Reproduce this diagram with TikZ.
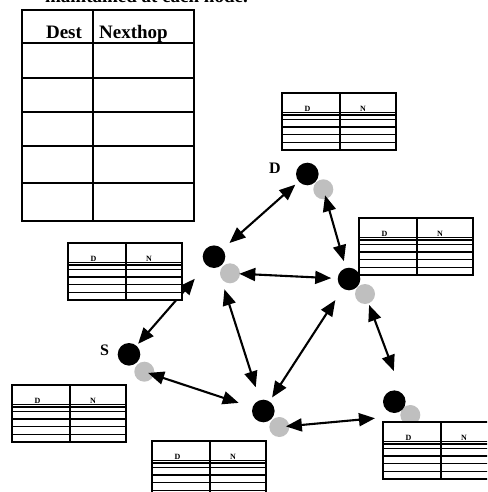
\documentclass[tikz,border=0pt]{standalone}
\usepackage{fontspec}
\setmainfont{Liberation Serif}
\usetikzlibrary{arrows.meta}
\begin{document}
\begin{tikzpicture}[x=1pt,y=-1pt,
  blk/.style={circle,fill=black,minimum size=22.6pt,inner sep=0pt,outer sep=0pt},
  gry/.style={circle,fill=black!25,minimum size=20pt,inner sep=0pt,outer sep=0pt},
  link/.style={line width=2.1pt,{Triangle[length=16pt,width=13pt]}-{Triangle[length=16pt,width=13pt]}},
  hdr/.style={font=\fontsize{19}{19}\selectfont\bfseries,anchor=base,inner sep=0pt},
  lab/.style={font=\fontsize{16}{16}\selectfont\bfseries,inner sep=0pt},
  tinytxt/.style={font=\fontsize{8}{8}\selectfont\bfseries,anchor=base,inner sep=0pt},
  tabline/.style={line width=1.3pt},
  smalltab/.pic={
    \fill[white] (0,0) rectangle (114,57);
    \draw[tabline] (0,0) rectangle (114,57);
    \draw[tabline] (58,0) -- (58,57);
    \foreach \yy in {19.7,21.9,26.3,34,41.7,49.7} \draw[tabline] (0,\yy) -- (114,\yy);
    \node[tinytxt] (-d) at (25.5,18) {D};
    \node[tinytxt] (-n) at (81,18) {N};
  }]
\useasboundingbox (0,0) rectangle (487,492);
\clip (0,0) rectangle (487,492);

% partially visible caption
\node[hdr,anchor=base east] (title) at (248,2.5) {maintained at each node.};

% big routing table
\draw[line width=1.4pt] (22,10) rectangle (194,221);
\draw[line width=1.4pt] (93,10) -- (93,221);
\foreach \yy in {43,78,112,146,183} \draw[line width=1.4pt] (22,\yy) -- (194,\yy);
\node[hdr] (dest) at (64,39) {Dest};
\node[hdr] (nexthop) at (133.5,39) {Nexthop};

% network nodes
\node[gry] (Dg) at (323.3,189.3) {};
\node[blk] (Db) at (307.3,174) {};
\node[gry] (Ag) at (230,273.3) {};
\node[blk] (Ab) at (214,256.7) {};
\node[gry] (Bg) at (365,294) {};
\node[blk] (Bb) at (349,279) {};
\node[gry] (Sg) at (144.3,371.7) {};
\node[blk] (Sb) at (129,354.3) {};
\node[gry] (Cg) at (279.3,427) {};
\node[blk] (Cb) at (263.3,411) {};
\node[gry] (Eg) at (410.3,415) {};
\node[blk] (Eb) at (394.3,401.7) {};

\node[lab] (Dlab) at (275,168) {D};
\node[lab] (Slab) at (104.5,350) {S};

% links
\draw[link,shorten <=20.7pt,shorten >=16pt] (Ab.center) -- (Db.center);
\draw[link,shorten <=18.6pt,shorten >=6.3pt] (Bb.center) -- (Dg.center);
\draw[link,shorten <=9.3pt,shorten >=17.8pt] (Ag.center) -- (Bb.center);
\draw[link,shorten <=13.9pt,shorten >=29.2pt] (Sb.center) -- (Ab.center);
\draw[link,shorten <=25.9pt,shorten >=4pt] (Cb.center) -- (Sg.center);
\draw[link,shorten <=34.2pt,shorten >=24.9pt] (Ab.center) -- (Cb.center);
\draw[link,shorten <=25.1pt,shorten >=16.1pt] (Bb.center) -- (Cb.center);
\draw[link,shorten <=11.7pt,shorten >=46.9pt] (Bg.center) -- (Eg.center);
\draw[link,shorten <=6.6pt,shorten >=35.5pt] (Cg.center) -- (Eg.center);

% small tables
\pic (t1) at (282,93) {smalltab};
\pic (t2) at (68,243) {smalltab};
\pic (t3) at (359,218) {smalltab};
\pic (t4) at (12,385) {smalltab};
\pic (t5) at (152,441) {smalltab};
\pic (t6) at (383,422) {smalltab};
\end{tikzpicture}
\end{document}
